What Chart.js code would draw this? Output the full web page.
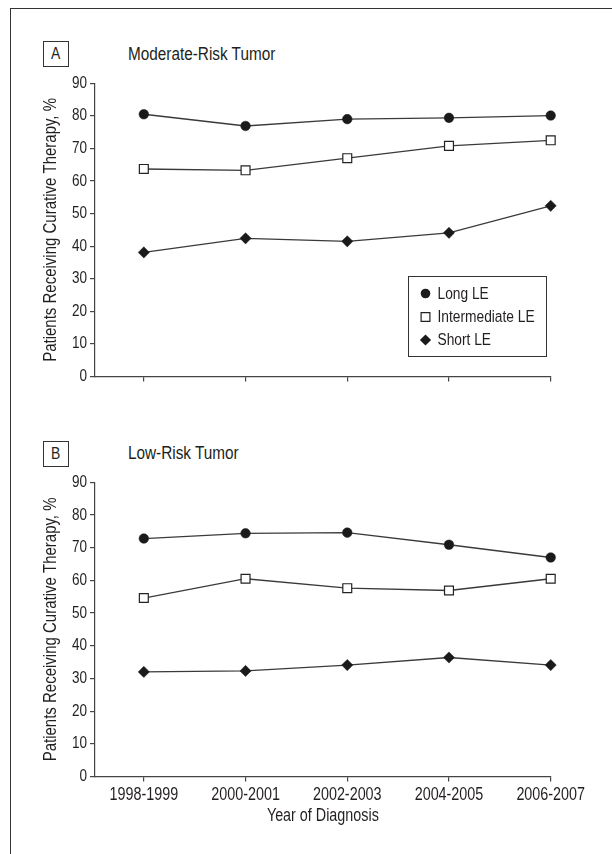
<!DOCTYPE html>
<html>
<head>
<meta charset="utf-8">
<script src="https://cdn.jsdelivr.net/npm/chart.js@4.4.1/dist/chart.umd.min.js"></script>
<style>
  body { margin: 0; background: #fff; }
  #page { position: relative; width: 612px; height: 854px; overflow: hidden;
    font-family: "Liberation Sans", Arial, sans-serif; color: #231f20; }
  #frame { position: absolute; left: 10px; top: 8px; width: 700px; height: 900px;
    border-left: 1.5px solid #333; border-top: 1.5px solid #333; }
  .tag { position: absolute; left: 43px; width: 24px; height: 24px; border: 1px solid #333;
    font-size: 17px; line-height: 24px; text-align: center; }
  .tag span, .title span { display: inline-block; transform: scaleX(0.82); }
  .tag span { transform-origin: center; }
  .title { position: absolute; left: 128px; font-size: 18.7px; line-height: 22px; white-space: nowrap; }
  .title span { transform-origin: left center; }
  canvas { position: absolute; left: 0; }
</style>
</head>
<body>
<div id="page">
  <div id="frame"></div>
  <div class="tag" style="top:41px"><span>A</span></div>
  <div class="title" style="top:43px"><span>Moderate-Risk Tumor</span></div>
  <div class="tag" style="top:441px"><span>B</span></div>
  <div class="title" style="top:442px"><span>Low-Risk Tumor</span></div>
  <canvas id="chartA" width="612" height="420" style="top:0"></canvas>
  <canvas id="chartB" width="612" height="434" style="top:420px"></canvas>
</div>
<script>
// datos
const categories = ["1998-1999", "2000-2001", "2002-2003", "2004-2005", "2006-2007"];
const seriesNames = ["Long LE", "Intermediate LE", "Short LE"];
const yTicks = [0, 10, 20, 30, 40, 50, 60, 70, 80, 90];

const moderateLong = [80.5, 76.9, 79.0, 79.4, 80.1];
const moderateIntermediate = [63.7, 63.3, 67.0, 70.8, 72.5];
const moderateShort = [38.1, 42.4, 41.5, 44.1, 52.4];

const lowLong = [72.8, 74.4, 74.6, 70.9, 67.0];
const lowIntermediate = [54.6, 60.5, 57.6, 56.9, 60.5];
const lowShort = [32.0, 32.3, 34.1, 36.4, 34.1];

const FONT = '"Liberation Sans", Arial, sans-serif';
const NARROW = 0.82; // la figura usa una letra condensada
const INK = "#231f20";
const LINE = "#3a3a3a";

const styles = [
  { pointStyle: "circle", pointRadius: 4.8, pointBackgroundColor: "#1a1a1a", pointBorderColor: "#1a1a1a", pointBorderWidth: 0.5 },
  { pointStyle: "rect", pointRadius: 6.3, pointBackgroundColor: "#fff", pointBorderColor: "#222", pointBorderWidth: 1.2 },
  { pointStyle: "rectRot", pointRadius: 5.6, pointBackgroundColor: "#1a1a1a", pointBorderColor: "#1a1a1a", pointBorderWidth: 0.5 },
];

const toPoints = (arr) => arr.map((v, i) => ({ x: i, y: v }));

function buildDatasets(values) {
  return values.map((arr, k) => Object.assign({
    label: seriesNames[k],
    data: toPoints(arr),
    borderColor: LINE,
    borderWidth: 1.3,
    tension: 0,
    clip: false,
  }, styles[k]));
}

// texto condensado: se comprime cada texto sobre su punto de anclaje
const narrowText = {
  id: "narrowText",
  beforeDraw(chart) {
    const ctx = chart.ctx;
    if (ctx._narrow) return;
    const orig = ctx.fillText.bind(ctx);
    ctx.fillText = function (text, x, y, maxWidth) {
      this.save();
      this.translate(x, y);
      this.scale(NARROW, 1);
      if (maxWidth === undefined) orig(text, 0, 0);
      else orig(text, 0, 0, maxWidth / NARROW);
      this.restore();
    };
    ctx._narrow = true;
  },
};

// leyenda dibujada dentro del panel A
const legendBox = {
  id: "legendBox",
  afterDraw(chart, args, opts) {
    if (!opts.show) return;
    const ctx = chart.ctx;
    ctx.save();
    ctx.strokeStyle = "#333";
    ctx.lineWidth = 1;
    ctx.strokeRect(408.5, 276.5, 138, 80);
    ctx.font = "16.8px " + FONT;
    ctx.textBaseline = "middle";
    ctx.textAlign = "left";
    const rows = [293.5, 317, 340];
    chart.data.datasets.forEach((ds, i) => {
      const x = 425.5, y = rows[i];
      ctx.beginPath();
      if (ds.pointStyle === "circle") {
        ctx.arc(x, y, 4.8, 0, Math.PI * 2);
        ctx.fillStyle = "#1a1a1a";
        ctx.fill();
      } else if (ds.pointStyle === "rect") {
        ctx.rect(x - 4.4, y - 4.4, 8.8, 8.8);
        ctx.fillStyle = "#fff";
        ctx.fill();
        ctx.lineWidth = 1.2;
        ctx.strokeStyle = "#222";
        ctx.stroke();
      } else {
        ctx.moveTo(x, y - 5.6);
        ctx.lineTo(x + 5.6, y);
        ctx.lineTo(x, y + 5.6);
        ctx.lineTo(x - 5.6, y);
        ctx.closePath();
        ctx.fillStyle = "#1a1a1a";
        ctx.fill();
      }
      ctx.fillStyle = INK;
      ctx.fillText(ds.label, 437.5, y + 0.5);
    });
    ctx.restore();
  },
};

function makeChart(id, values, cfg) {
  return new Chart(document.getElementById(id), {
    type: "line",
    data: { datasets: buildDatasets(values) },
    plugins: [narrowText, legendBox],
    options: {
      responsive: false,
      animation: false,
      layout: { padding: { top: cfg.top, right: 61.3, bottom: cfg.bottom, left: 0 } },
      plugins: {
        legend: { display: false },
        tooltip: { enabled: false },
        legendBox: { show: cfg.legend },
      },
      scales: {
        x: {
          type: "linear",
          min: -0.48,
          max: 4,
          afterBuildTicks: (s) => { s.ticks = categories.map((c, i) => ({ value: i })); },
          afterFit: (s) => { s.height = cfg.xHeight; },
          ticks: {
            display: cfg.xLabels,
            autoSkip: false,
            maxRotation: 0,
            padding: 3,
            color: INK,
            font: { family: FONT, size: 17.5 },
            callback: (v) => categories[v],
          },
          grid: { drawOnChartArea: false, drawTicks: true, tickLength: 5, color: "#444", lineWidth: 1.2 },
          border: { color: "#444", width: 1.2 },
          title: {
            display: cfg.xLabels,
            text: "Year of Diagnosis",
            color: INK,
            font: { family: FONT, size: 17.5 },
            padding: { top: 0, bottom: 27 },
          },
        },
        y: {
          min: 0,
          max: 90,
          afterBuildTicks: (s) => { s.ticks = yTicks.map((v) => ({ value: v })); },
          afterFit: (s) => { s.width = 95; },
          ticks: { padding: 3, color: INK, font: { family: FONT, size: 16.5 } },
          grid: { drawOnChartArea: false, drawTicks: true, tickLength: 5, color: "#444", lineWidth: 1.2 },
          border: { color: "#444", width: 1.2 },
          title: {
            display: true,
            text: "Patients Receiving Curative Therapy, %",
            color: INK,
            font: { family: FONT, size: 18.3 },
            padding: { top: 40, bottom: 0 },
          },
        },
      },
    },
  });
}

makeChart("chartA", [moderateLong, moderateIntermediate, moderateShort],
  { top: 83.3, bottom: 33.5, xHeight: 10, xLabels: false, legend: true });
makeChart("chartB", [lowLong, lowIntermediate, lowShort],
  { top: 62.3, bottom: 0, xHeight: 77.5, xLabels: true, legend: false });
</script>
</body>
</html>
